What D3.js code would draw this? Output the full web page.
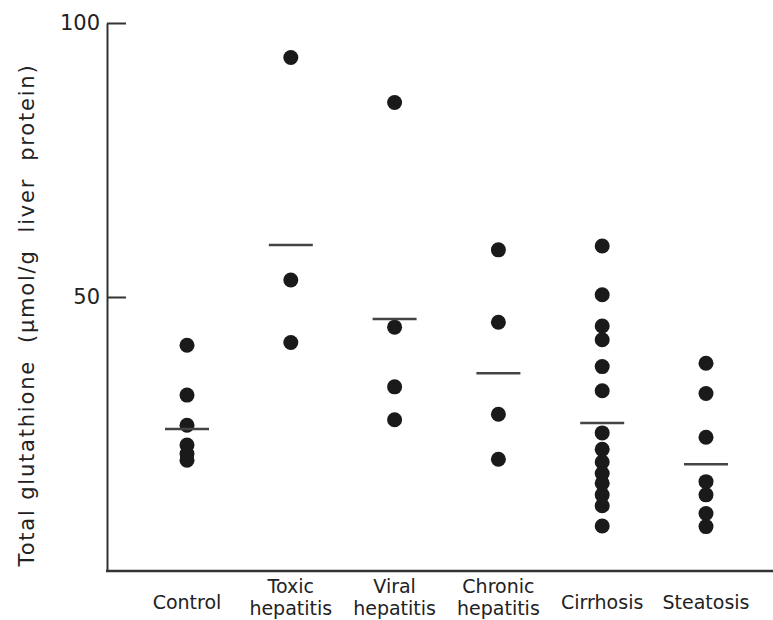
<!DOCTYPE html>
<html>
<head>
<meta charset="utf-8">
<script src="https://cdn.jsdelivr.net/npm/d3@7"></script>
<style>
  body { margin: 0; background: #fff; }
  svg { display: block; font-family: 'DejaVu Sans', sans-serif; }
</style>
</head>
<body>
<svg id="chart" width="773" height="620"></svg>
<script>
// groups along the x axis
var categories = ['Control', 'Toxic hepatitis', 'Viral hepatitis', 'Chronic hepatitis', 'Cirrhosis', 'Steatosis']
var categoryLines = [['Control'], ['Toxic', 'hepatitis'], ['Viral', 'hepatitis'], ['Chronic', 'hepatitis'], ['Cirrhosis'], ['Steatosis']]

// individual values, umol/g liver protein
var control = [41.2, 32.1, 26.6, 23.0, 21.4, 20.2]
var toxic = [93.7, 53.1, 41.7]
var viral = [85.5, 44.5, 33.6, 27.6]
var chronic = [58.6, 45.4, 28.6, 20.4]
var cirrhosis = [59.3, 50.4, 44.7, 42.2, 37.3, 32.9, 25.2, 22.2, 19.9, 17.8, 16.0, 13.9, 11.9, 8.2]
var steatosis = [37.9, 32.4, 24.4, 16.3, 13.9, 10.5, 8.1]
var groupValues = [control, toxic, viral, chronic, cirrhosis, steatosis]

// horizontal bars = group means
var means = [25.9, 59.5, 46.0, 36.1, 27.0, 19.5]

var yTicks = [50, 100]
var yLabel = 'Total glutathione  (\u00b5mol/g  liver  protein)'

var svg = d3.select('#chart')

var x = d3.scalePoint()
  .domain(categories)
  .range([187, 706])

var y = d3.scaleLinear()
  .domain([0, 100])
  .range([571, 23])

var ink = '#222'

// y axis, ticks pointing into the plot
var yAxis = svg.append('g')
  .attr('transform', 'translate(107,0)')
  .call(d3.axisLeft(y)
    .tickValues(yTicks)
    .tickSizeInner(-19)
    .tickSizeOuter(0)
    .tickPadding(7))
yAxis.select('.domain').attr('stroke', '#333').attr('stroke-width', 2)
yAxis.selectAll('.tick line').attr('stroke', '#333').attr('stroke-width', 2)
yAxis.selectAll('.tick text')
  .attr('fill', ink)
  .style('font-size', '21px')
  .style('font-family', "'DejaVu Sans', sans-serif")

// x axis baseline
svg.append('line')
  .attr('x1', 106).attr('x2', 773)
  .attr('y1', y(0)).attr('y2', y(0))
  .attr('stroke', '#333')
  .attr('stroke-width', 2.5)

// category labels, one text per line
var labelLines = []
categories.forEach(function (c, i) {
  var lines = categoryLines[i]
  lines.forEach(function (line, j) {
    labelLines.push({ cat: c, text: line, row: lines.length === 1 ? -1 : j })
  })
})

svg.append('g')
  .selectAll('text')
  .data(labelLines)
  .enter().append('text')
    .attr('text-anchor', 'middle')
    .attr('fill', ink)
    .style('font-size', '19px')
    .attr('x', function (d) { return x(d.cat) })
    .attr('y', function (d) { return d.row < 0 ? 609 : 593 + d.row * 22 })
    .text(function (d) { return d.text })

// points
var groups = svg.append('g')
  .selectAll('g')
  .data(categories)
  .enter().append('g')

groups.selectAll('circle')
  .data(function (d, i) { return groupValues[i].map(function (v) { return { cat: d, v: v } }) })
  .enter().append('circle')
    .attr('cx', function (d) { return x(d.cat) })
    .attr('cy', function (d) { return y(d.v) })
    .attr('r', 7.5)
    .attr('fill', '#1a1a1a')

// mean bars
svg.append('g')
  .selectAll('line')
  .data(categories)
  .enter().append('line')
    .attr('x1', function (d) { return x(d) - 22 })
    .attr('x2', function (d) { return x(d) + 22 })
    .attr('y1', function (d, i) { return y(means[i]) })
    .attr('y2', function (d, i) { return y(means[i]) })
    .attr('stroke', '#444')
    .attr('stroke-width', 2.5)

// y axis title
svg.append('text')
  .attr('transform', 'translate(34,315) rotate(-90)')
  .attr('text-anchor', 'middle')
  .attr('fill', ink)
  .style('font-size', '21px')
  .style('white-space', 'pre')
  .style('letter-spacing', '1.8px')
  .text(yLabel)
</script>
</body>
</html>
